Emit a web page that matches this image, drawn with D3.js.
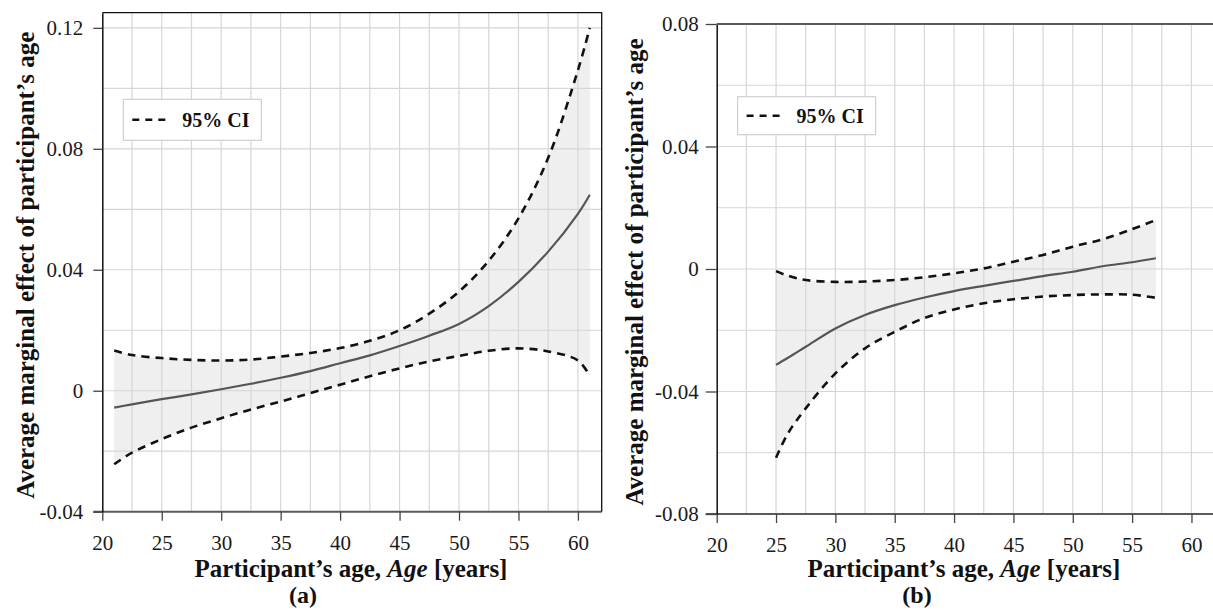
<!DOCTYPE html>
<html>
<head>
<meta charset="utf-8">
<script src="https://cdn.jsdelivr.net/npm/d3@7.9.0/dist/d3.min.js"></script>
<style>
  body { margin: 0; background: #fff; }
  svg { display: block; }
  svg text { font-family: "Liberation Serif", "Times New Roman", serif; }
</style>
</head>
<body>
<svg id="chart" width="1213" height="614"></svg>
<script>
// panel (a): all participants
const agesA  = [21, 22.5, 25, 27.5, 30, 32.5, 35, 37.5, 40, 42.5, 45, 47.5, 50, 52.5, 55, 57.5, 60, 61];
const meanA  = [-0.0056, -0.0045, -0.0028, -0.0012, 0.0005, 0.0023, 0.0043, 0.0065, 0.0091, 0.0117, 0.0148, 0.0182, 0.0221, 0.0280, 0.0360, 0.0460, 0.0585, 0.0648];
const upperA = [0.0133, 0.0118, 0.0108, 0.0102, 0.0100, 0.0103, 0.0113, 0.0125, 0.0141, 0.0165, 0.0200, 0.0255, 0.0328, 0.0430, 0.0570, 0.0770, 0.1060, 0.1200];
const lowerA = [-0.0243, -0.0205, -0.0160, -0.0122, -0.0091, -0.0062, -0.0036, -0.0008, 0.0020, 0.0048, 0.0074, 0.0097, 0.0115, 0.0132, 0.0140, 0.0130, 0.0100, 0.0049];

// panel (b)
const agesB  = [25, 26, 27.5, 30, 32.5, 35, 37.5, 40, 42.5, 45, 47.5, 50, 52.5, 55, 57];
const meanB  = [-0.0313, -0.0290, -0.0254, -0.0194, -0.0150, -0.0118, -0.0093, -0.0072, -0.0055, -0.0039, -0.0023, -0.0009, 0.0009, 0.0022, 0.0035];
const upperB = [-0.0007, -0.0022, -0.0036, -0.0042, -0.0041, -0.0036, -0.0027, -0.0014, 0.0002, 0.0024, 0.0046, 0.0073, 0.0097, 0.0130, 0.0160];
const lowerB = [-0.0616, -0.0537, -0.0455, -0.0341, -0.0259, -0.0205, -0.0160, -0.0132, -0.0112, -0.0099, -0.0090, -0.0085, -0.0083, -0.0084, -0.0094];

const xTicks  = [20, 25, 30, 35, 40, 45, 50, 55, 60];
const yTicksA = [-0.04, 0, 0.04, 0.08, 0.12];
const yTicksB = [-0.08, -0.04, 0, 0.04, 0.08];

const legendLabel = '95% CI';
const yTitle = 'Average marginal effect of participant’s age';

const serif = '"Liberation Serif", "Times New Roman", serif';
const svg = d3.select('#chart');
const fmt = d => d === 0 ? '0' : d.toFixed(2);
const curve = d3.curveCatmullRom.alpha(0.5);

function drawPanel(cfg) {
  const { ages, mean, upper, lower, x, y, yTicks, xGrid, yGrid } = cfg;
  const g = svg.append('g');
  const [x0, x1] = x.range();
  const [yb, yt] = y.range();

  // CI band
  const rows = ages.map((a, i) => ({ a, m: mean[i], u: upper[i], l: lower[i] }));
  g.append('path')
    .datum(rows)
    .attr('fill', '#efefef')
    .attr('d', d3.area()
      .x(d => x(d.a))
      .y0(d => y(d.l))
      .y1(d => y(d.u))
      .curve(curve));

  // grid
  g.selectAll('.vg').data(xGrid).join('line')
    .attr('x1', d => x(d)).attr('x2', d => x(d))
    .attr('y1', yt).attr('y2', yb)
    .attr('stroke', '#d6d6d6').attr('stroke-width', 1.2);
  g.selectAll('.hg').data(yGrid).join('line')
    .attr('x1', x0).attr('x2', x1)
    .attr('y1', d => y(d)).attr('y2', d => y(d))
    .attr('stroke', '#d6d6d6').attr('stroke-width', 1.2);

  const line = key => d3.line()
    .x(d => x(d.a))
    .y(d => y(d[key]))
    .curve(curve);

  g.append('path').datum(rows)
    .attr('fill', 'none').attr('stroke', '#111')
    .attr('stroke-width', 2.6).attr('stroke-dasharray', '8,6')
    .attr('d', line('u'));
  g.append('path').datum(rows)
    .attr('fill', 'none').attr('stroke', '#111')
    .attr('stroke-width', 2.6).attr('stroke-dasharray', '8,6')
    .attr('d', line('l'));
  g.append('path').datum(rows)
    .attr('fill', 'none').attr('stroke', '#555')
    .attr('stroke-width', 2.2)
    .attr('d', line('m'));

  // axes
  const xAxis = g.append('g')
    .attr('transform', `translate(0,${yb})`)
    .call(d3.axisBottom(x).tickValues(xTicks).tickSize(9).tickPadding(14).tickSizeOuter(0));
  xAxis.attr('font-family', serif);
  xAxis.select('.domain').attr('stroke', '#5a5a5a').attr('stroke-width', 2)
    .attr('d', `M${x0 - cfg.yTick},0H${x1}`);
  xAxis.selectAll('.tick line').attr('stroke', '#444').attr('stroke-width', 1.3);
  xAxis.selectAll('text').attr('font-size', 21).attr('fill', '#1a1a1a');

  const yAxis = g.append('g')
    .attr('transform', `translate(${x0},0)`)
    .call(d3.axisLeft(y).tickValues(yTicks).tickFormat(fmt)
      .tickSize(cfg.yTick).tickPadding(cfg.yPad).tickSizeOuter(0));
  yAxis.attr('font-family', serif);
  yAxis.select('.domain').attr('stroke', '#111').attr('stroke-width', 1.5);
  yAxis.selectAll('.tick line').attr('stroke', '#444').attr('stroke-width', 1.3);
  yAxis.selectAll('text').attr('font-size', 21).attr('fill', '#1a1a1a');

  // titles
  const xt = svg.append('text')
    .attr('x', (x0 + x1) / 2 - cfg.titleShift).attr('y', 577)
    .attr('text-anchor', 'middle')
    .attr('font-size', 25).attr('font-weight', 'bold').attr('fill', '#111');
  xt.append('tspan').text('Participant’s age, ');
  xt.append('tspan').attr('font-style', 'italic').text('Age');
  xt.append('tspan').text(' [years]');

  svg.append('text')
    .attr('transform', `translate(${cfg.yTitleX},${(yt + yb) / 2 + 3}) rotate(-90)`)
    .attr('text-anchor', 'middle')
    .attr('font-size', 25).attr('font-weight', 'bold').attr('fill', '#111')
    .text(yTitle);

  svg.append('text')
    .attr('x', cfg.tagX).attr('y', 603)
    .attr('text-anchor', 'middle')
    .attr('font-size', 24).attr('font-weight', 'bold').attr('fill', '#111')
    .text(cfg.tag);

  // legend
  const lg = svg.append('g').attr('transform', `translate(${cfg.legend[0]},${cfg.legend[1]})`);
  lg.append('rect')
    .attr('width', 138).attr('height', cfg.legend[2])
    .attr('fill', '#fff').attr('stroke', '#cfcfcf').attr('stroke-width', 1.2);
  lg.append('line')
    .attr('x1', 9).attr('x2', 43)
    .attr('y1', cfg.legend[2] / 2).attr('y2', cfg.legend[2] / 2)
    .attr('stroke', '#111').attr('stroke-width', 2.4).attr('stroke-dasharray', '7,6');
  lg.append('text')
    .attr('x', 59).attr('y', cfg.legend[2] / 2 + 7)
    .attr('font-size', 20).attr('font-weight', 'bold').attr('fill', '#111')
    .text(legendLabel);

  return g;
}

// panel (a)
const xA = d3.scaleLinear().domain([20, 62]).range([102.3, 601.7]);
const yA = d3.scaleLinear().domain([-0.04, 0.125]).range([511.7, 12.7]);
const gA = drawPanel({
  ages: agesA, mean: meanA, upper: upperA, lower: lowerA,
  x: xA, y: yA, yTicks: yTicksA,
  xGrid: d3.range(22.5, 61, 2.5),
  yGrid: [-0.02, 0.02, 0.06, 0.1, 0.12, 0.08, 0.04, 0],
  yTick: 9, yPad: 10, yTitleX: 34, titleShift: 1,
  tag: '(a)', tagX: 303, legend: [123.3, 99.3, 41]
});
// frame top/right for (a)
gA.append('path')
  .attr('d', `M${xA(20)},${yA(0.125)}H${xA(62)}V${yA(-0.04)}`)
  .attr('fill', 'none').attr('stroke', '#111').attr('stroke-width', 1.3);

// panel (b)
const xB = d3.scaleLinear().domain([20, 62]).range([716.7, 1215.2]);
const yB = d3.scaleLinear().domain([-0.08, 0.08]).range([514, 24]);
const gB = drawPanel({
  ages: agesB, mean: meanB, upper: upperB, lower: lowerB,
  x: xB, y: yB, yTicks: yTicksB,
  xGrid: d3.range(22.5, 61, 2.5),
  yGrid: [-0.06, -0.04, -0.02, 0, 0.02, 0.04, 0.06],
  yTick: 11, yPad: 7, yTitleX: 643, titleShift: 2,
  tag: '(b)', tagX: 917, legend: [737.6, 96.7, 38]
});
gB.append('line')
  .attr('x1', xB(20)).attr('x2', xB(62))
  .attr('y1', yB(0.08)).attr('y2', yB(0.08))
  .attr('stroke', '#5a5a5a').attr('stroke-width', 2);
</script>
</body>
</html>
